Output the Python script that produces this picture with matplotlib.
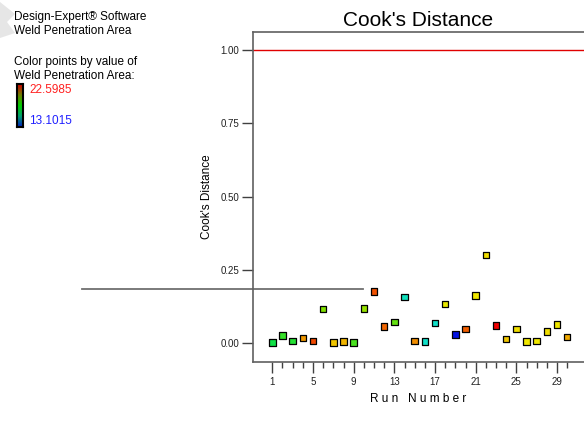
import numpy as np
import matplotlib.pyplot as plt
from matplotlib.colors import LinearSegmentedColormap, Normalize
from matplotlib.patches import Polygon

plt.rcParams['font.family'] = ['Liberation Sans', 'DejaVu Sans']

# run order, Cook's distance and the response used to colour each point
runs = np.arange(1, 31)
cooks_d = [0.003, 0.026, 0.008, 0.018, 0.007, 0.117, 0.002, 0.006, 0.003, 0.118,
           0.176, 0.057, 0.073, 0.158, 0.007, 0.006, 0.069, 0.134, 0.030, 0.048,
           0.162, 0.301, 0.061, 0.014, 0.048, 0.006, 0.007, 0.040, 0.064, 0.021]
weld_area = [17.56, 18.04, 17.85, 21.17, 21.93, 18.80, 20.70, 20.89, 18.23, 19.08,
             21.84, 21.65, 18.51, 15.95, 21.27, 15.76, 15.76, 20.22, 13.10, 21.74,
             20.32, 20.41, 22.60, 20.70, 20.41, 20.32, 20.32, 20.41, 20.32, 20.98]
area_min, area_max = 13.1015, 22.5985

limit = 1.0
stray_y = 0.185
stray_x = (-17.7, 9.9)

y_ticks = [0.0, 0.25, 0.5, 0.75, 1.0]
x_major = np.arange(1, 31, 4)
x_minor = np.arange(1, 31)

point_cmap = LinearSegmentedColormap.from_list(
    'pts', [(0.0, '#0010e0'), (0.28, '#10e0c8'), (0.48, '#10e040'),
            (0.6, '#80e000'), (0.76, '#f0e800'), (0.86, '#f09000'),
            (0.93, '#f04800'), (1.0, '#f00000')])
bar_cmap = LinearSegmentedColormap.from_list(
    'bar', ['#0020c0', '#00a070', '#00d000', '#708000', '#d00000'])

fig = plt.figure(figsize=(5.84, 4.32), dpi=100)
W, H = 584, 432
ax = fig.add_axes([253 / W, 1 - 362 / H, 1 - 253 / W, 330 / H])

norm = Normalize(area_min, area_max)
ax.scatter(runs, cooks_d, c=weld_area, cmap=point_cmap, norm=norm, marker='s',
           s=22, edgecolors='black', linewidths=0.9, zorder=3)

ax.axhline(limit, color='#e00000', lw=1.0)
ax.plot(stray_x, [stray_y, stray_y], color='#707070', lw=1.3, clip_on=False)

ax.set_xlim(-0.9, 31.65)
ax.set_ylim(-0.064, 1.061)
ax.set_yticks(y_ticks)
ax.set_yticklabels(['%.2f' % v for v in y_ticks])
ax.set_xticks(x_major)
ax.set_xticks(x_minor, minor=True)

for s in ['left', 'top', 'bottom']:
    ax.spines[s].set_color('#606060')
    ax.spines[s].set_linewidth(1.2)
ax.spines['right'].set_visible(False)
ax.tick_params(axis='both', which='major', direction='out', color='#404040',
               width=1.0, labelsize=7, labelcolor='#202020')
ax.tick_params(axis='x', which='major', length=8, pad=3)
ax.tick_params(axis='x', which='minor', length=4, width=1.0, color='#404040')
ax.tick_params(axis='y', which='major', length=8, pad=2)

ax.set_title("Cook's Distance", fontsize=15, pad=4)
ax.set_xlabel('R u n   N u m b e r', fontsize=8.5, labelpad=4)
ax.set_ylabel("Cook's Distance", fontsize=8.5, labelpad=5)

# header text and colour key
chevron = [[0, 2], [15, 14], [7, 22], [15, 33], [0, 38]]
fig.patches.append(Polygon([[x, H - y] for x, y in chevron], closed=True,
                           transform=None, fc='#e6e6e6', ec='none'))
fig.text(14 / W, 1 - 17 / H, 'Design-Expert® Software', fontsize=8.5, va='center')
fig.text(14 / W, 1 - 31 / H, 'Weld Penetration Area', fontsize=8.5, va='center')
fig.text(14 / W, 1 - 62 / H, 'Color points by value of', fontsize=8.5, va='center')
fig.text(14 / W, 1 - 76 / H, 'Weld Penetration Area:', fontsize=8.5, va='center')
fig.text(29 / W, 1 - 90 / H, '%.4f' % area_max, fontsize=8.5, va='center', color='#ff2020')
fig.text(29 / W, 1 - 121 / H, '%.4f' % area_min, fontsize=8.5, va='center', color='#2020ff')

cax = fig.add_axes([17 / W, 1 - 127 / H, 6 / W, 43 / H])
grad = np.linspace(1, 0, 100).reshape(-1, 1)
cax.imshow(grad, cmap=bar_cmap, aspect='auto')
cax.set_xticks([])
cax.set_yticks([])
for s in cax.spines.values():
    s.set_linewidth(1.5)
    s.set_color('black')

fig.savefig('out.png', dpi=100)
